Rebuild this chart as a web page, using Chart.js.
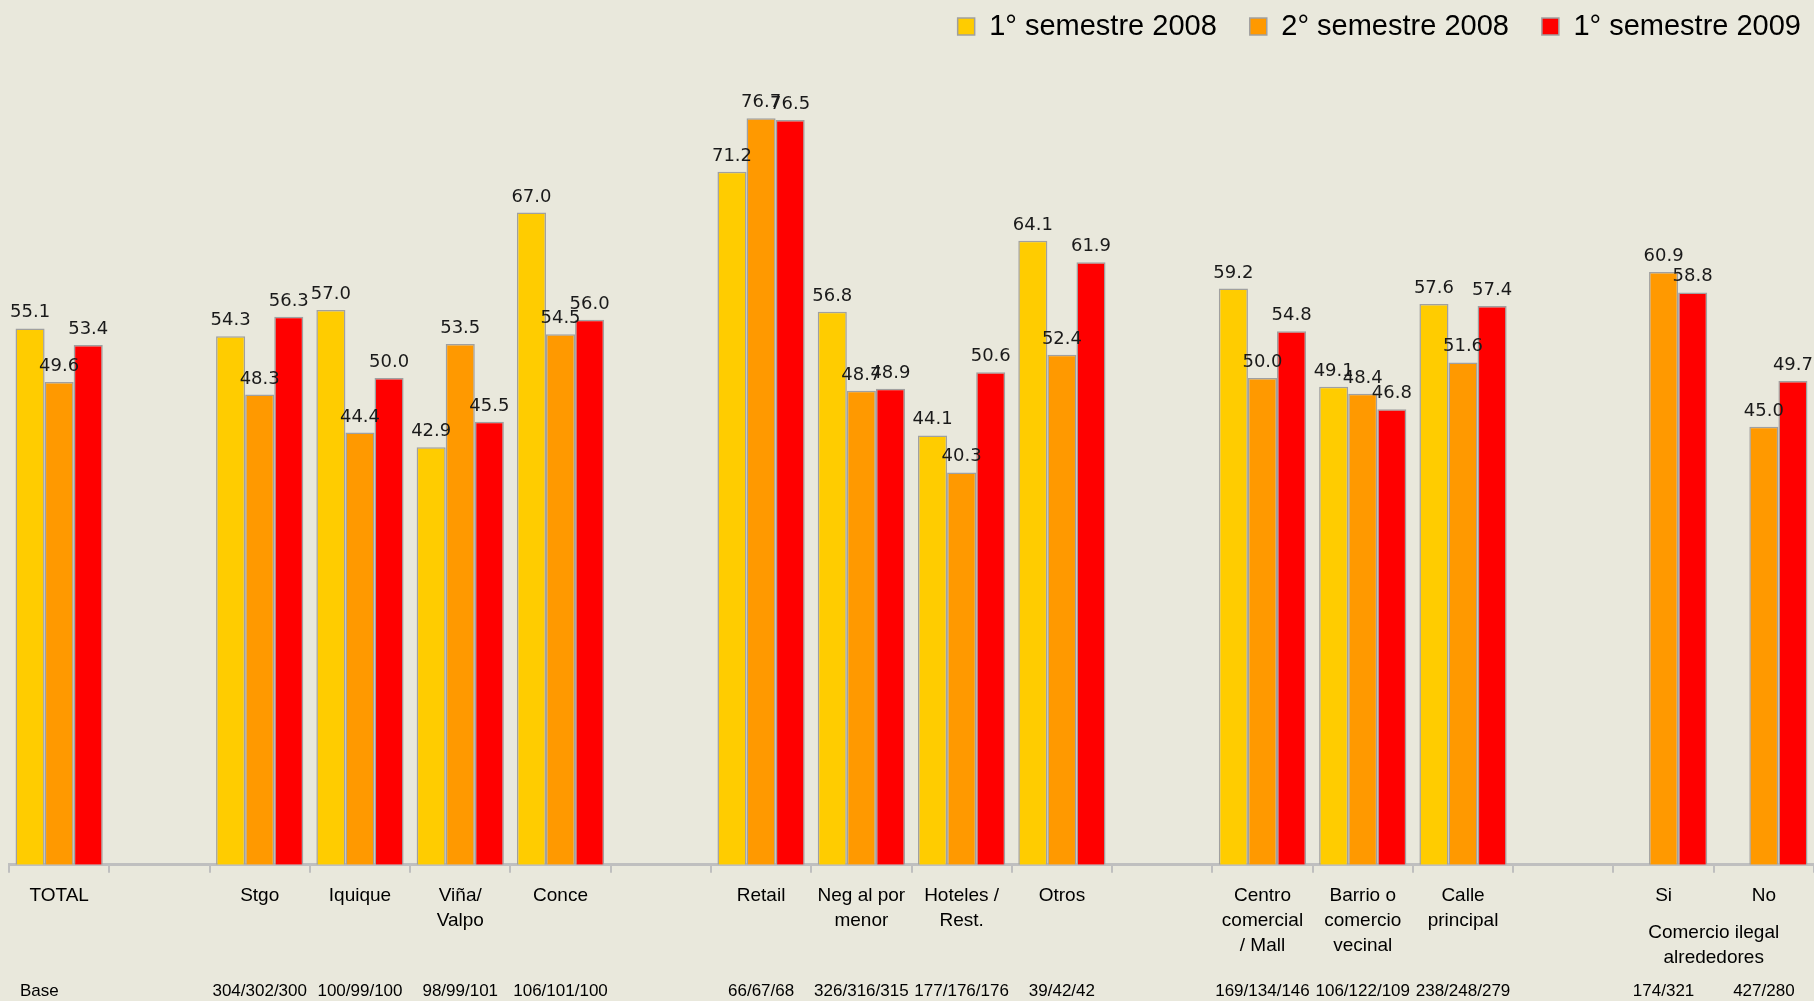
<!DOCTYPE html>
<html>
<head>
<meta charset="utf-8">
<script src="https://cdn.jsdelivr.net/npm/chart.js@4.4.1/dist/chart.umd.min.js"></script>
<style>
    html, body { margin: 0; padding: 0; background: #E9E8DC; }
    #wrap { width: 1814px; height: 1001px; position: relative; }
</style>
</head>
<body>
<div id="wrap"><canvas id="chart"></canvas></div>
<script>
// ---- datos ----
const categorias = [
    ["TOTAL"], [""], ["Stgo"], ["Iquique"], ["Viña/", "Valpo"], ["Conce"], [""],
    ["Retail"], ["Neg al por", "menor"], ["Hoteles /", "Rest."], ["Otros"], [""],
    ["Centro", "comercial", "/ Mall"], ["Barrio o", "comercio", "vecinal"], ["Calle", "principal"], [""],
    ["Si"], ["No"]
];

const sem1_2008 = [55.1, null, 54.3, 57.0, 42.9, 67.0, null, 71.2, 56.8, 44.1, 64.1, null, 59.2, 49.1, 57.6, null, null, null];
const sem2_2008 = [49.6, null, 48.3, 44.4, 53.5, 54.5, null, 76.7, 48.7, 40.3, 52.4, null, 50.0, 48.4, 51.6, null, 60.9, 45.0];
const sem1_2009 = [53.4, null, 56.3, 50.0, 45.5, 56.0, null, 76.5, 48.9, 50.6, 61.9, null, 54.8, 46.8, 57.4, null, 58.8, 49.7];

const bases = [
    "Base", "", "304/302/300", "100/99/100", "98/99/101", "106/101/100", "",
    "66/67/68", "326/316/315", "177/176/176", "39/42/42", "",
    "169/134/146", "106/122/109", "238/248/279", "", "174/321", "427/280"
];

const grupoComercio = ["Comercio ilegal", "alrededores"];

// ---- etiquetas de valores sobre las barras ----
const valueLabels = {
    id: "valueLabels",
    afterDatasetsDraw(chart) {
        const ctx = chart.ctx;
        ctx.save();
        ctx.font = "18px 'DejaVu Sans'";
        ctx.fillStyle = "#1a1a1a";
        ctx.textAlign = "center";
        ctx.textBaseline = "alphabetic";
        chart.data.datasets.forEach((ds, i) => {
            const meta = chart.getDatasetMeta(i);
            meta.data.forEach((bar, j) => {
                const v = ds.data[j];
                if (v === null || v === undefined) return;
                ctx.fillText(v.toFixed(1), bar.x, bar.y - 11);
            });
        });
        ctx.restore();
    }
};

// ---- fila "Base" y etiqueta de grupo ----
const baseRow = {
    id: "baseRow",
    afterDraw(chart) {
        const ctx = chart.ctx;
        const x = chart.scales.x;
        ctx.save();
        ctx.fillStyle = "#000";
        ctx.textBaseline = "middle";
        ctx.font = "17px 'Liberation Sans'";
        bases.forEach((b, i) => {
            if (!b) return;
            if (i === 0) {
                ctx.textAlign = "left";
                ctx.fillText(b, 20, 991);
            } else {
                ctx.textAlign = "center";
                ctx.fillText(b, x.getPixelForValue(i), 991);
            }
        });
        // Comercio ilegal alrededores, centrado entre Si y No
        const cx = (x.getPixelForValue(16) + x.getPixelForValue(17)) / 2;
        ctx.font = "19px 'Liberation Sans'";
        ctx.textAlign = "center";
        ctx.fillText(grupoComercio[0], cx, 933);
        ctx.fillText(grupoComercio[1], cx, 958);
        ctx.restore();
    }
};

// la leyenda queda más pegada al borde derecho
const legendShift = {
    id: "legendShift",
    afterLayout(chart) {
        if (!chart.legend) return;
        chart.legend.left += 20;
        chart.legend.right += 20;
    }
};

new Chart(document.getElementById("chart"), {
    type: "bar",
    data: {
        labels: categorias,
        datasets: [
            { label: "1° semestre 2008", data: sem1_2008, backgroundColor: "#FFCC00" },
            { label: "2° semestre 2008", data: sem2_2008, backgroundColor: "#FF9900" },
            { label: "1° semestre 2009", data: sem1_2009, backgroundColor: "#FF0000" }
        ].map(d => Object.assign(d, {
            borderColor: "#A0A0A0",
            borderWidth: 1.5,
            barPercentage: 1.0,
            categoryPercentage: 0.87
        }))
    },
    options: {
        responsive: true,
        maintainAspectRatio: false,
        animation: false,
        layout: { padding: { left: 9, right: 0, top: -21, bottom: 33 } },
        plugins: {
            tooltip: { enabled: false },
            legend: {
                position: "top",
                align: "end",
                labels: {
                    boxWidth: 17,
                    boxHeight: 17,
                    padding: 33,
                    color: "#000",
                    font: { family: "'Liberation Sans'", size: 29 }
                }
            }
        },
        scales: {
            x: {
                grid: {
                    display: true,
                    drawOnChartArea: false,
                    drawTicks: true,
                    tickLength: 8,
                    color: "#BFBFBF",
                    lineWidth: 2
                },
                border: { display: true, color: "#BFBFBF", width: 3 },
                ticks: {
                    autoSkip: false,
                    maxRotation: 0,
                    padding: 10,
                    color: "#000",
                    font: { family: "'Liberation Sans'", size: 19, lineHeight: 1.32 }
                }
            },
            y: {
                display: false,
                min: 0,
                max: 83.6
            }
        }
    },
    plugins: [valueLabels, baseRow, legendShift]
});
</script>
</body>
</html>
